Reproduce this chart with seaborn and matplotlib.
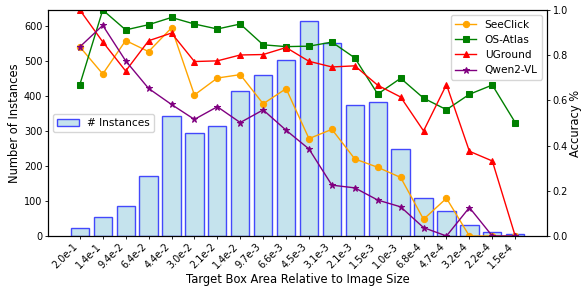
import numpy as np
import pandas as pd
import seaborn as sns
import matplotlib.pyplot as plt

# Target box area bins (relative to image size)
areas = ['2.0e-1', '1.4e-1', '9.4e-2', '6.4e-2', '4.4e-2', '3.0e-2', '2.1e-2',
         '1.4e-2', '9.7e-3', '6.6e-3', '4.5e-3', '3.1e-3', '2.1e-3', '1.5e-3',
         '1.0e-3', '6.8e-4', '4.7e-4', '3.2e-4', '2.2e-4', '1.5e-4']
instances = [24, 55, 87, 172, 344, 296, 316, 416, 460, 503, 616, 552, 375, 384,
             248, 110, 71, 31, 12, 6]

seeclick = [0.837, 0.717, 0.865, 0.816, 0.921, 0.624, 0.699, 0.714, 0.585, 0.652,
            0.431, 0.472, 0.341, 0.304, 0.259, 0.074, 0.167, 0.0, 0.0, 0.0]
os_atlas = [0.67, 1.0, 0.912, 0.935, 0.967, 0.938, 0.916, 0.938, 0.846, 0.838,
            0.84, 0.858, 0.788, 0.628, 0.698, 0.61, 0.559, 0.627, 0.668, 0.502]
uground = [1.0, 0.859, 0.73, 0.864, 0.898, 0.772, 0.775, 0.801, 0.803, 0.834,
           0.773, 0.748, 0.753, 0.667, 0.615, 0.465, 0.67, 0.375, 0.332, 0.0]
qwen2vl = [0.837, 0.932, 0.775, 0.653, 0.582, 0.516, 0.572, 0.502, 0.558, 0.468,
           0.385, 0.225, 0.213, 0.159, 0.129, 0.037, 0.0, 0.126, 0.0, 0.0]

df = pd.DataFrame({'area': areas, 'n': instances})
n = len(areas)
xpos = np.arange(n)

plt.rcParams['axes.linewidth'] = 0.8

fig = plt.figure(figsize=(5.81, 2.91), dpi=100)
ax1 = fig.add_axes([0.0826, 0.189, 0.859, 0.7766])

# barras - número de instâncias
sns.barplot(data=df, x='area', y='n', color='lightblue', edgecolor='blue',
            linewidth=1.0, alpha=0.7, width=0.8, saturation=1, ax=ax1)
pad = 0.05 * (n - 1 + 0.8)
ax1.set_xlim(-0.4 - pad, n - 1 + 0.4 + pad)
ax1.set_ylim(0, max(instances) * 1.05)
ax1.set_xlabel('Target Box Area Relative to Image Size', fontsize=8.3, labelpad=2)
ax1.set_ylabel('Number of Instances', fontsize=8.3, labelpad=2)
ax1.tick_params(axis='both', labelsize=7, length=2.2, width=0.6, pad=1.8)
plt.setp(ax1.get_xticklabels(), rotation=45, ha='right')
ax1.legend([ax1.patches[0]], ['# Instances'], loc='center left', fontsize=7.6)

# linhas - acurácia
ax2 = ax1.twinx()
series = [('SeeClick', seeclick, 'orange', 'o', 4.5),
          ('OS-Atlas', os_atlas, 'green', 's', 4.5),
          ('UGround', uground, 'red', '^', 5),
          ('Qwen2-VL', qwen2vl, 'purple', '*', 4.5)]
for name, vals, col, mk, ms in series:
    sns.lineplot(x=xpos, y=vals, color=col, marker=mk, markersize=ms,
                 markeredgecolor=col, linewidth=1.0, label=name, ax=ax2)
ax2.set_ylim(0, 1.0)
ax2.set_ylabel('Accuracy %', fontsize=8.3, labelpad=1)
ax2.tick_params(axis='y', labelsize=7, length=2.2, width=0.6, pad=1.8)
ax2.legend(loc='upper right', fontsize=7.6)

fig.savefig('out.png', dpi=100)
